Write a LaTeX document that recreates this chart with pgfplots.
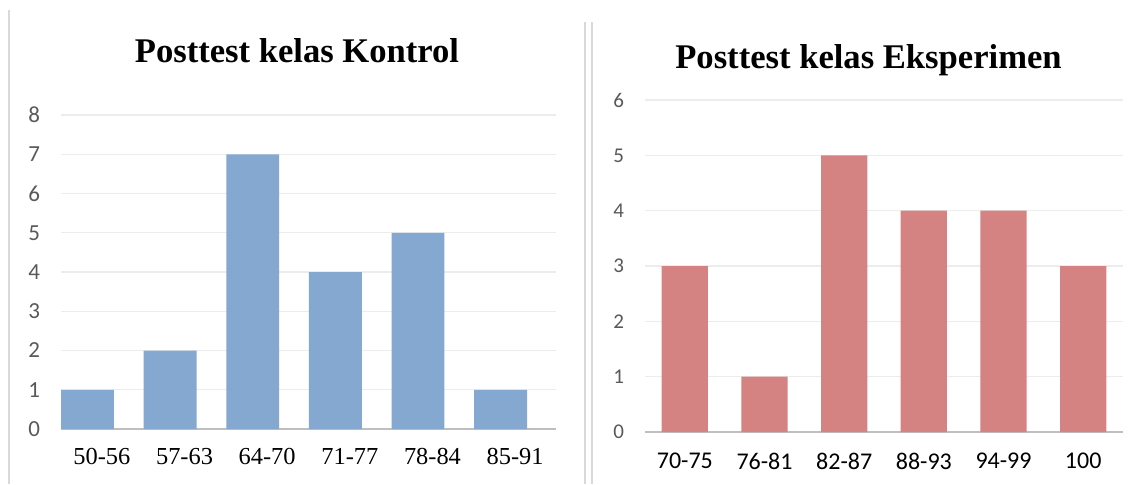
\documentclass[border=0pt]{standalone}
\usepackage{fontspec}
\setmainfont{Liberation Serif}
\newfontfamily\carlito{Carlito}
\usepackage{pgfplots}
\pgfplotsset{compat=1.18}
\definecolor{barblue}{RGB}{132,168,208}
\definecolor{barred}{RGB}{213,130,130}
\definecolor{gridc}{RGB}{236,236,236}
\definecolor{basec}{RGB}{191,191,191}
\definecolor{tickc}{RGB}{89,89,89}
\definecolor{sepc}{RGB}{217,217,217}
\begin{document}
\begin{tikzpicture}
\path[use as bounding box] (0pt,0pt) rectangle (569.5pt,242pt);
% separators
\draw[sepc, line width=1pt] (4.5pt,237pt) -- (4.5pt,0pt);
\draw[sepc, line width=1pt] (292.5pt,231pt) -- (292.5pt,0pt);
\draw[sepc, line width=1pt] (296pt,231pt) -- (296pt,0pt);
\pgfplotsset{
  mybars/.style={
    scale only axis,
    ybar, ymin=0,
    axis x line*=bottom, axis y line*=left,
    y axis line style={draw=none},
    x axis line style={draw=basec, line width=1.2pt},
    major tick length=0pt,
    ymajorgrids, grid style={draw=gridc, line width=0.6pt},
    /pgf/number format/assume math mode=true,
    yticklabel style={font=\carlito\fontsize{11.5}{12}\selectfont, text=tickc, xshift=-7pt},
  }
}
\begin{axis}[mybars, at={(30.5pt,27.5pt)}, anchor=south west,
  width=247.5pt, height=157pt,
  xmin=-0.32, xmax=5.67, ymax=8, ytick={0,...,8},
  bar width=0.64,
  xtick={0.175,1.175,2.175,3.175,4.175,5.175},
  xticklabels={50-56,57-63,64-70,71-77,78-84,85-91},
  xticklabel style={font=\fontsize{12.2}{13}\selectfont, text=black, yshift=-6pt},
]
\addplot[fill=barblue, draw=none] coordinates {(0,1) (1,2) (2,7) (3,4) (4,5) (5,1)};
\end{axis}
\begin{axis}[mybars, at={(322.5pt,26pt)}, anchor=south west,
  width=239pt, height=166pt,
  xmin=-0.5, xmax=5.5, ymax=6, ytick={0,...,6},
  bar width=0.58,
  yticklabel style={font=\carlito\fontsize{10.5}{12}\selectfont},
  xtick={0,1,2,3,4,5},
  xticklabels={70-75,76-81,82-87,88-93,94-99,100},
  xticklabel style={font=\carlito\fontsize{12}{13}\selectfont, text=black, yshift=-7pt},
]
\addplot[fill=barred, draw=none] coordinates {(0,3) (1,1) (2,5) (3,4) (4,4) (5,3)};
\end{axis}
\node[anchor=base, font=\bfseries\fontsize{17.3}{20}\selectfont] at (148.5pt,211pt) {Posttest kelas Kontrol};
\node[anchor=base, font=\bfseries\fontsize{17.3}{20}\selectfont] at (434.25pt,208pt) {Posttest kelas Eksperimen};
\end{tikzpicture}
\end{document}
